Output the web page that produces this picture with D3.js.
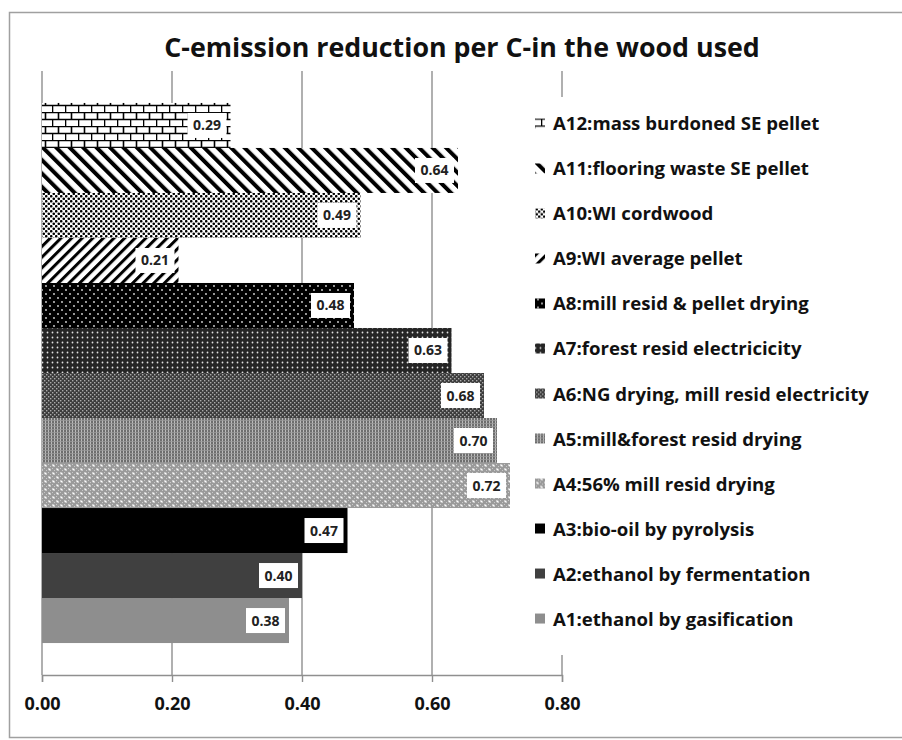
<!DOCTYPE html>
<html>
<head>
<meta charset="utf-8">
<script src="https://cdn.jsdelivr.net/npm/d3@7"></script>
<style>
body{margin:0;background:#fff;}
svg text{font-family:"Open Sans",Lato,sans-serif;}
</style>
</head>
<body>
<div id="chart"></div>
<script>
// data, bottom to top as drawn (A1 at the bottom)
var names = ["A1:ethanol by gasification","A2:ethanol by fermentation","A3:bio-oil by pyrolysis",
	"A4:56% mill resid drying","A5:mill&forest resid drying","A6:NG drying, mill resid electricity",
	"A7:forest resid electricicity","A8:mill resid & pellet drying","A9:WI average pellet",
	"A10:WI cordwood","A11:flooring waste SE pellet","A12:mass burdoned SE pellet"];
var values = [0.38,0.40,0.47,0.72,0.70,0.68,0.63,0.48,0.21,0.49,0.64,0.29];
var fills = ["#8e8e8e","#404040","#000","url(#pA4)","url(#pA5)","url(#pA6)",
	"url(#pA7)","url(#pA8)","url(#pA9)","url(#pA10)","url(#pA11)","url(#pA12)"];
var xTicks = [0,0.2,0.4,0.6,0.8];
var chartTitle = "C-emission reduction per C-in the wood used";

var w = 902, h = 740;
var margin = {"top":71,"left":42,"right":340,"bottom":65};

var svg = d3.select("#chart").append("svg")
	.attr("width", w)
	.attr("height", h);

// patterns
var defs = svg.append("defs");
function pat(id,pw,ph,bg,rot){
	var p = defs.append("pattern").attr("id",id)
		.attr("patternUnits","userSpaceOnUse")
		.attr("width",pw).attr("height",ph);
	if(rot) p.attr("patternTransform","rotate("+rot+")");
	p.append("rect").attr("width",pw).attr("height",ph).attr("fill",bg);
	return p;
}
// A12 bricks
var p12 = pat("pA12",13,14,"#fff");
p12.append("path").attr("d","M0,0.5H13M0,7.5H13M6.5,0V7M0.5,7V14")
	.attr("stroke","#000").attr("stroke-width",1.6).attr("fill","none");
// A11 wide down diagonal
var p11 = pat("pA11",9.5,9.5,"#fff",-45);
p11.append("rect").attr("x",0).attr("width",4).attr("height",9.5).attr("fill","#000");
// A10 dots
var p10 = pat("pA10",5,5,"#fff");
p10.append("circle").attr("cx",1.25).attr("cy",1.25).attr("r",1.3).attr("fill","#000");
p10.append("circle").attr("cx",3.75).attr("cy",3.75).attr("r",1.3).attr("fill","#000");
// A9 up diagonal
var p9 = pat("pA9",7.5,7.5,"#fff",45);
p9.append("rect").attr("x",0).attr("width",3).attr("height",7.5).attr("fill","#000");
// A8 black with sparse white dots
var p8 = pat("pA8",8,8,"#000");
p8.append("circle").attr("cx",2).attr("cy",2).attr("r",0.9).attr("fill","#ddd");
p8.append("circle").attr("cx",6).attr("cy",6).attr("r",0.9).attr("fill","#ddd");
// A7 dark with white dots
var p7 = pat("pA7",5,5,"#252525");
p7.append("circle").attr("cx",2.5).attr("cy",2.5).attr("r",0.9).attr("fill","#e0e0e0");
// A6 dark grey checker
var p6 = pat("pA6",4,4,"#3c3c3c");
p6.append("rect").attr("x",0).attr("y",0).attr("width",1.4).attr("height",1.4).attr("fill","#aaa");
p6.append("rect").attr("x",2).attr("y",2).attr("width",1.4).attr("height",1.4).attr("fill","#aaa");
// A5 grey grid
var p5 = pat("pA5",3,3,"#6e6e6e");
p5.append("rect").attr("x",0).attr("y",0).attr("width",1).attr("height",3).attr("fill","#bbb");
p5.append("rect").attr("x",0).attr("y",0).attr("width",3).attr("height",0.8).attr("fill","#999");
// A4 light grey with white dots
var p4 = pat("pA4",8,8,"#9a9a9a");
p4.append("path").attr("d","M0,0h1v1h-1zM2,2h1v1h-1zM4,0h1v1h-1zM6,2h1v1h-1zM0,4h1v1h-1zM2,6h1v1h-1zM4,4h1v1h-1zM6,6h1v1h-1z")
	.attr("fill","#c8c8c8");
p4.append("circle").attr("cx",1.5).attr("cy",5.5).attr("r",1.1).attr("fill","#fff");
p4.append("circle").attr("cx",5.5).attr("cy",1.5).attr("r",1.1).attr("fill","#fff");

// frame
svg.append("rect").attr("x",9.5).attr("y",12.5).attr("width",900).attr("height",725)
	.attr("fill","#fff").attr("stroke","#a0a0a0").attr("stroke-width",1.5);

var xScale = d3.scaleLinear()
	.domain([0,0.8])
	.range([margin.left, w - margin.right]);
var yScale = d3.scaleBand()
	.domain(names.slice().reverse())
	.range([margin.top, h - margin.bottom])
	.paddingInner(0)
	.paddingOuter(0.71);

// gridlines
svg.append("g").selectAll("line")
	.data(xTicks)
	.enter().append("line")
	.attr("x1",function(d){return xScale(d);})
	.attr("x2",function(d){return xScale(d);})
	.attr("y1",margin.top)
	.attr("y2",h - margin.bottom)
	.attr("stroke","#8f8f8f").attr("stroke-width",1.4);

// x axis
var xAxis = svg.append("g")
	.attr("class","axis")
	.attr("transform","translate(0,"+(h - margin.bottom)+")")
	.call(d3.axisBottom(xScale).tickValues(xTicks).tickFormat(d3.format(".2f")).tickSize(7).tickPadding(15));
xAxis.select(".domain").attr("stroke","#8f8f8f").attr("stroke-width",1.4);
xAxis.selectAll(".tick line").attr("stroke","#8f8f8f").attr("stroke-width",1.4);
xAxis.selectAll("text").attr("font-size",18).attr("font-weight","bold").attr("fill","#111")
	.style("font-family","'Open Sans',sans-serif");

// bars
svg.append("g").selectAll("rect")
	.data(values)
	.enter().append("rect")
	.attr("x",xScale(0))
	.attr("y",function(d,i){return yScale(names[i]);})
	.attr("width",function(d){return xScale(d)-xScale(0);})
	.attr("height",yScale.bandwidth())
	.attr("fill",function(d,i){return fills[i];});

// value labels
var lab = svg.append("g").selectAll("g")
	.data(values)
	.enter().append("g")
	.attr("transform",function(d,i){
		return "translate("+(xScale(d)-4)+","+(yScale(names[i])+yScale.bandwidth()/2)+")";});
lab.append("rect").attr("x",-39).attr("y",-12.5).attr("width",39).attr("height",25)
	.attr("fill","#fff");
lab.append("text").attr("x",-19.5).attr("y",5)
	.attr("text-anchor","middle")
	.attr("font-size",14).attr("font-weight","bold").attr("fill","#222")
	.text(function(d){return d3.format(".2f")(d);});

// legend
var lx = 528;
svg.append("rect").attr("x",lx).attr("y",97).attr("width",365).attr("height",558).attr("fill","#fff");
var leg = svg.append("g").selectAll("g")
	.data(names)
	.enter().append("g")
	.attr("transform",function(d){return "translate("+lx+","+(yScale(d)+yScale.bandwidth()/2)+")";});
leg.append("rect").attr("x",7).attr("y",-7).attr("width",10).attr("height",10)
	.attr("fill",function(d,i){return fills[i];});
leg.append("text").attr("x",25).attr("y",5)
	.attr("font-size",18.6).attr("font-weight","bold").attr("fill","#111")
	.text(function(d){return d;});

// title
svg.append("text")
	.attr("x",462).attr("y",57)
	.attr("text-anchor","middle")
	.attr("font-size",26.8).attr("font-weight","bold").attr("fill","#111")
	.text(chartTitle);
</script>
</body>
</html>
